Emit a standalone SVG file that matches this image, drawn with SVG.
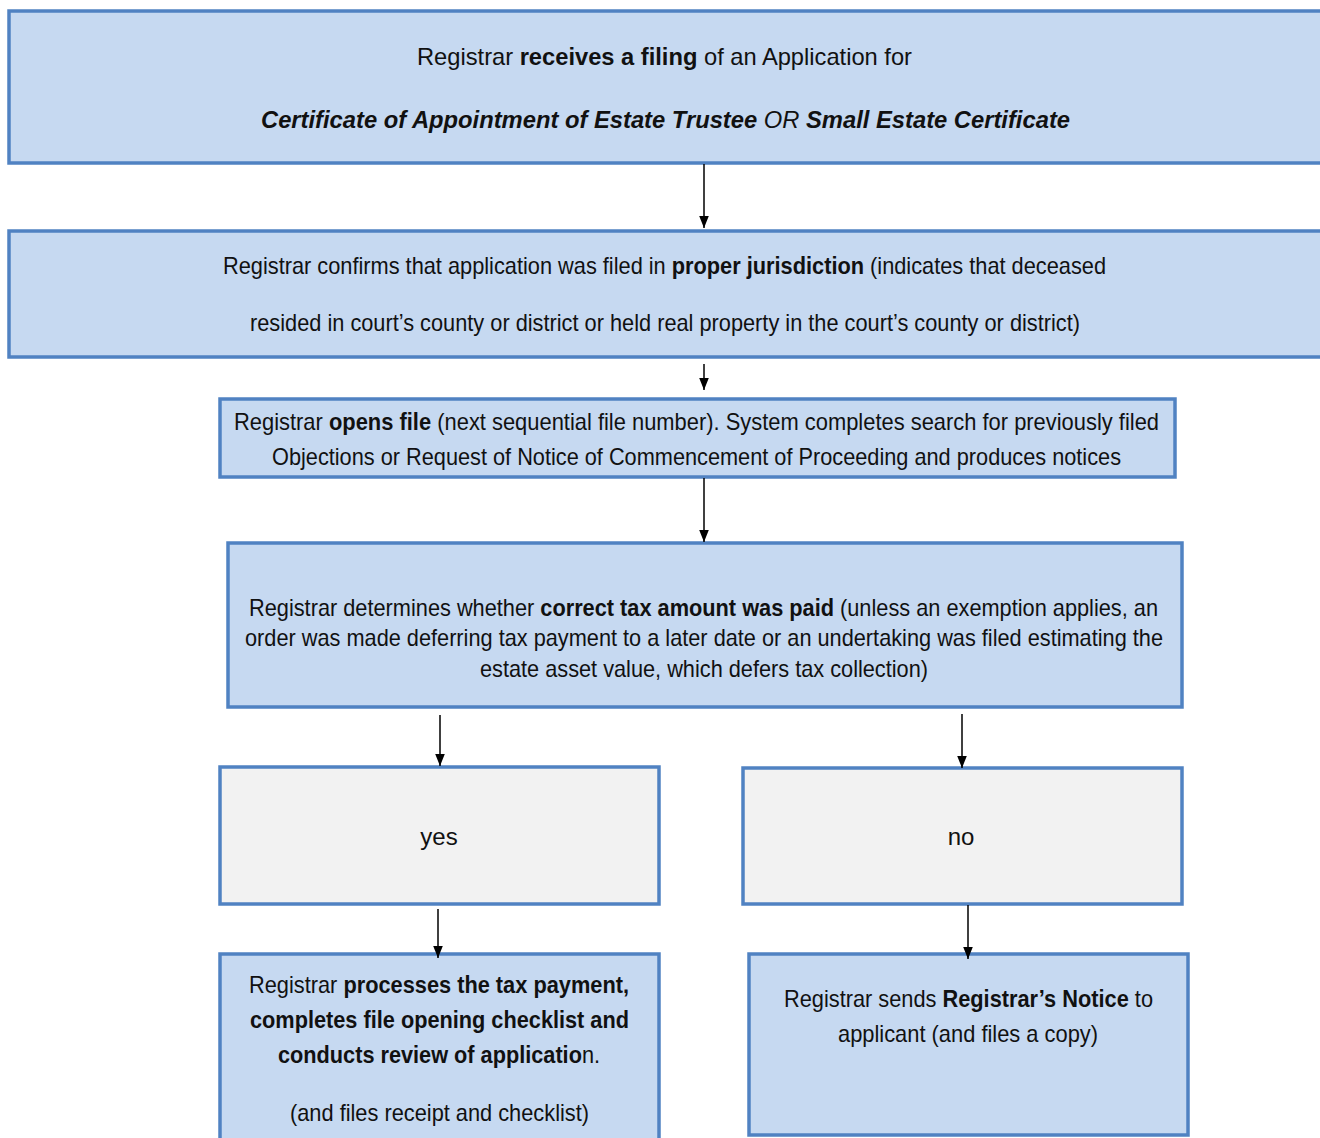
<svg xmlns="http://www.w3.org/2000/svg" width="1320" height="1138" viewBox="0 0 1320 1138">
  <defs>
    <marker id="arrow" viewBox="0 0 10 10" refX="10" refY="5" markerWidth="12" markerHeight="12" markerUnits="userSpaceOnUse" orient="auto">
      <path d="M0,1 L10,5 L0,9 Z" fill="#000"/>
    </marker>
    <style>
      .box { fill: #c6d9f1; stroke: #5082c2; stroke-width: 3.5; }
      .grey { fill: #f2f2f2; stroke: #5082c2; stroke-width: 3.5; }
      .t { font-family: "Liberation Sans Narrow", "Arial Narrow", "Liberation Sans", sans-serif; font-size: 24px; fill: #111; text-anchor: middle; }
      .b { font-weight: bold; }
      .i { font-style: italic; }
      .conn line { stroke: #000; stroke-width: 1.5; marker-end: url(#arrow); }
    </style>
  </defs>
  <rect width="1320" height="1138" fill="#fff"/>

  <g id="receive-filing">
    <rect class="box" x="9" y="11" width="1316" height="152"/>
    <text class="t" x="664.5" y="65" textLength="495" lengthAdjust="spacingAndGlyphs">Registrar <tspan class="b">receives a filing</tspan> of an Application for</text>
    <text class="t" x="665.5" y="128" textLength="809" lengthAdjust="spacingAndGlyphs"><tspan class="b i">Certificate of Appointment of Estate Trustee</tspan><tspan class="i"> OR </tspan><tspan class="b i">Small Estate Certificate</tspan></text>
  </g>

  <g id="jurisdiction">
    <rect class="box" x="9" y="231" width="1316" height="126"/>
    <text class="t" x="664.5" y="274" textLength="883" lengthAdjust="spacingAndGlyphs">Registrar confirms that application was filed in <tspan class="b">proper jurisdiction</tspan> (indicates that deceased</text>
    <text class="t" x="665" y="331" textLength="830" lengthAdjust="spacingAndGlyphs">resided in court’s county or district or held real property in the court’s county or district)</text>
  </g>

  <g id="open-file">
    <rect class="box" x="220" y="399" width="955" height="78"/>
    <text class="t" x="696.5" y="430" textLength="925" lengthAdjust="spacingAndGlyphs">Registrar <tspan class="b">opens file</tspan> (next sequential file number).  System completes search for previously filed</text>
    <text class="t" x="696.5" y="465" textLength="849" lengthAdjust="spacingAndGlyphs">Objections or Request of Notice of Commencement of Proceeding and produces notices</text>
  </g>

  <g id="tax-check">
    <rect class="box" x="228" y="543" width="954" height="164"/>
    <text class="t" x="703.5" y="616" textLength="909" lengthAdjust="spacingAndGlyphs">Registrar determines whether <tspan class="b">correct tax amount was paid</tspan> (unless an exemption applies, an</text>
    <text class="t" x="704" y="646" textLength="918" lengthAdjust="spacingAndGlyphs">order was made deferring tax payment to a later date or an undertaking was filed estimating the</text>
    <text class="t" x="704" y="677" textLength="448" lengthAdjust="spacingAndGlyphs">estate asset value, which defers tax collection)</text>
  </g>

  <g id="yes">
    <rect class="grey" x="220" y="767" width="439" height="137"/>
    <text class="t" x="439" y="845">yes</text>
  </g>

  <g id="no">
    <rect class="grey" x="743" y="768" width="439" height="136"/>
    <text class="t" x="961" y="845">no</text>
  </g>

  <g id="process-payment">
    <rect class="box" x="220" y="954" width="439" height="190"/>
    <text class="t" x="439" y="993" textLength="380" lengthAdjust="spacingAndGlyphs">Registrar <tspan class="b">processes the tax payment,</tspan></text>
    <text class="t b" x="439.5" y="1028" textLength="379" lengthAdjust="spacingAndGlyphs">completes file opening checklist and</text>
    <text class="t" x="439" y="1063" textLength="322" lengthAdjust="spacingAndGlyphs"><tspan class="b">conducts review of applicatio</tspan>n.</text>
    <text class="t" x="439.5" y="1121" textLength="299" lengthAdjust="spacingAndGlyphs">(and files receipt and checklist)</text>
  </g>

  <g id="registrar-notice">
    <rect class="box" x="749" y="954" width="439" height="181"/>
    <text class="t" x="968.5" y="1007" textLength="369" lengthAdjust="spacingAndGlyphs">Registrar sends <tspan class="b">Registrar’s Notice</tspan> to</text>
    <text class="t" x="968" y="1042" textLength="260" lengthAdjust="spacingAndGlyphs">applicant (and files a copy)</text>
  </g>

  <g id="connectors" class="conn">
    <line x1="704" y1="164" x2="704" y2="228"/>
    <line x1="704" y1="364" x2="704" y2="390"/>
    <line x1="704" y1="478" x2="704" y2="542"/>
    <line x1="440" y1="715" x2="440" y2="766"/>
    <line x1="962" y1="714" x2="962" y2="768"/>
    <line x1="438" y1="909" x2="438" y2="958"/>
    <line x1="968" y1="905" x2="968" y2="959"/>
  </g>
</svg>
